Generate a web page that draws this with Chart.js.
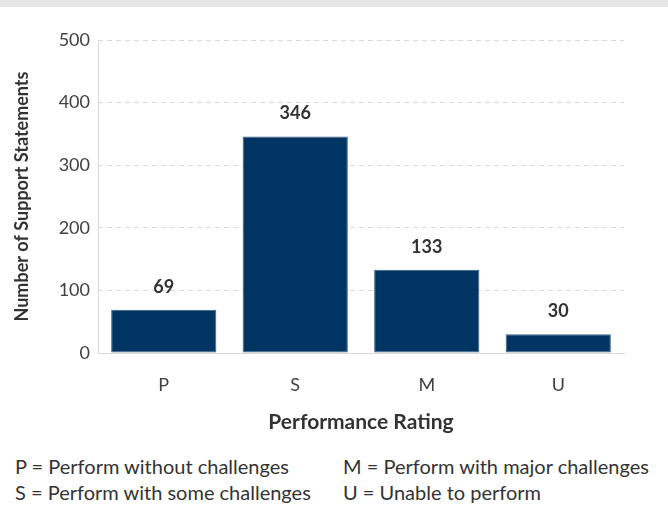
<!DOCTYPE html>
<html>
<head>
<meta charset="utf-8">
<script src="https://cdn.jsdelivr.net/npm/chart.js@4.4.1/dist/chart.umd.min.js"></script>
<style>
  html, body { margin: 0; padding: 0; background: #fff; }
  body { width: 668px; height: 529px; position: relative; overflow: hidden; font-family: Lato, sans-serif; }
  .bandeau { height: 7px; background: #e6e6e6; }
  .zone { position: absolute; left: 0; top: 7px; width: 668px; height: 440px; }
  .legende { position: absolute; font-size: 20px; color: #333; line-height: 26px; }
</style>
</head>
<body>
<div class="bandeau"></div>
<div class="zone"><canvas id="graphique" width="668" height="440"></canvas></div>
<div class="legende" style="left:15px; top:453px;">P = Perform without challenges<br>S = Perform with some challenges</div>
<div class="legende" style="left:343px; top:453px;">M = Perform with major challenges<br>U = Unable to perform</div>
<script>
/* Données */
const categories = ['P', 'S', 'M', 'U'];
const valeurs = [69, 346, 133, 30];
const ticksY = [0, 100, 200, 300, 400, 500];

const BLEU = '#003462';
const GRIS = '#d9d9d9';
const POLICE = 'Lato, sans-serif';

/* Axe vertical plein (la grille reste en pointillés) */
const axeGauche = {
    id: 'axeGauche',
    beforeDatasetsDraw(chart) {
        const { ctx, chartArea: a } = chart;
        ctx.save();
        ctx.strokeStyle = GRIS;
        ctx.lineWidth = 1;
        ctx.beginPath();
        ctx.moveTo(Math.round(a.left) + 0.5, a.top);
        ctx.lineTo(Math.round(a.left) + 0.5, a.bottom);
        ctx.stroke();
        ctx.restore();
    },
};

/* Étiquettes de valeur au-dessus des barres */
const etiquettes = {
    id: 'etiquettes',
    afterDatasetsDraw(chart) {
        const ctx = chart.ctx;
        const meta = chart.getDatasetMeta(0);
        ctx.save();
        ctx.font = 'bold 18px ' + POLICE;
        ctx.fillStyle = '#333';
        ctx.textAlign = 'center';
        ctx.textBaseline = 'middle';
        meta.data.forEach((barre, i) => {
            ctx.fillText(String(chart.data.datasets[0].data[i]), barre.x, barre.y - 23);
        });
        ctx.restore();
    },
};

new Chart(document.getElementById('graphique'), {
    type: 'bar',
    data: {
        labels: categories,
        datasets: [{
            data: valeurs,
            backgroundColor: BLEU,
            borderColor: '#3d5f86',
            borderWidth: 1,
            borderSkipped: false,
            barPercentage: 0.8,
            categoryPercentage: 1,
        }],
    },
    options: {
        responsive: false,
        animation: false,
        events: [],
        layout: { padding: { top: 33, right: 44, left: 0, bottom: 0 } },
        plugins: { legend: { display: false }, tooltip: { enabled: false } },
        scales: {
            x: {
                grid: { display: false, drawTicks: false },
                border: { color: GRIS },
                ticks: { color: '#404040', padding: 21, font: { family: POLICE, size: 18 } },
                title: {
                    display: true,
                    text: 'Performance Rating',
                    color: '#333',
                    font: { family: POLICE, size: 21, weight: 'bold' },
                    padding: { top: 0, bottom: 12 },
                },
                afterFit(s) { s.height = 94; },
            },
            y: {
                min: 0,
                max: 500,
                afterBuildTicks(s) { s.ticks = ticksY.map(v => ({ value: v })); },
                grid: { color: GRIS, drawTicks: false },
                border: { display: false, dash: [5, 4] },
                ticks: { color: '#404040', padding: 8, font: { family: POLICE, size: 18 } },
                title: {
                    display: true,
                    text: 'Number of Support Statements',
                    color: '#333',
                    font: { family: POLICE, size: 18, weight: 'bold' },
                    padding: { top: 11, bottom: 0 },
                },
                afterFit(s) { s.width = 98; },
            },
        },
    },
    plugins: [axeGauche, etiquettes],
});
</script>
</body>
</html>
